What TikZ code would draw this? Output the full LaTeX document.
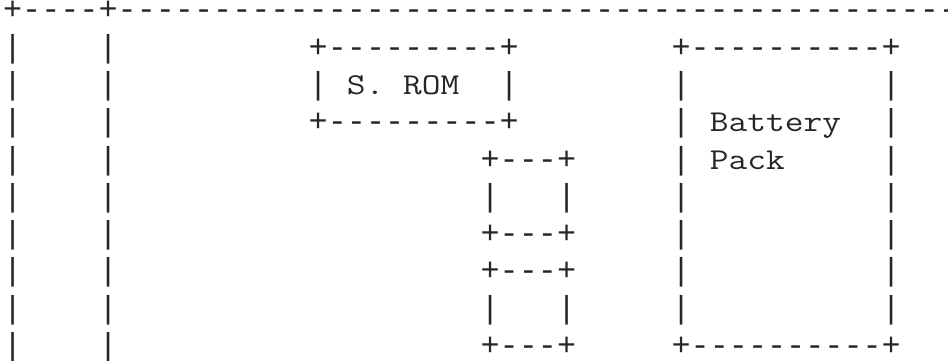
\documentclass[tikz,border=0pt]{standalone}
\usepackage{fontspec}
\setmonofont{Liberation Mono}
\newfontfamily\labelfont{Latin Modern Mono}[FakeStretch=1.2]

\begin{document}
\begin{tikzpicture}[%
	x=14.324pt, y=-27.98pt,     % one character cell wide, one text line high
	every node/.style={font=\ttfamily\fontsize{23.87pt}{28pt}\selectfont},
	]
	% -------------------------------------------------
	% every glyph run sits on its baseline in its cell
	\tikzset{
		cell/.style={anchor=base west, inner sep=0pt, outer sep=0pt, text=black!85},
		boxlabel/.style={cell, font=\labelfont\fontsize{22.74pt}{28pt}\selectfont},
	}
	\useasboundingbox (-0.162,-0.531) rectangle (49.47,9.121);
	\clip (-0.162,-0.531) rectangle (49.47,9.121);

	% outer frame
	\node[cell] (frame) at (0,0) {+----+---------------------------------------------};
	\foreach \r in {1,...,9} {
		\node[cell] (lbar\r) at (0,\r) {|};
		\node[cell] (rbar\r) at (5,\r) {|};
	}

	% S. ROM
	\node[cell] (romtop)   at (16,1) {+---------+};
	\node[cell] (romleft)  at (16,2) {|};
	\node[boxlabel] (rom)  at (18,2) {S. ROM};
	\node[cell] (romright) at (26,2) {|};
	\node[cell] (rombot)   at (16,3) {+---------+};

	% two small boxes
	\foreach \t in {4,7} {
		\node[cell] (smtop\t)   at (25,\t)   {+---+};
		\node[cell] (smleft\t)  at (25,\t+1) {|};
		\node[cell] (smright\t) at (29,\t+1) {|};
		\node[cell] (smbot\t)   at (25,\t+2) {+---+};
	}

	% Battery Pack
	\node[cell] (battop) at (35,1) {+----------+};
	\foreach \r in {2,...,8} {
		\node[cell] (batleft\r)  at (35,\r) {|};
		\node[cell] (batright\r) at (46,\r) {|};
	}
	\node[boxlabel] (battery) at (37,3) {Battery};
	\node[boxlabel] (pack)    at (37,4) {Pack};
	\node[cell] (batbot)  at (35,9) {+----------+};

\end{tikzpicture}
\end{document}
